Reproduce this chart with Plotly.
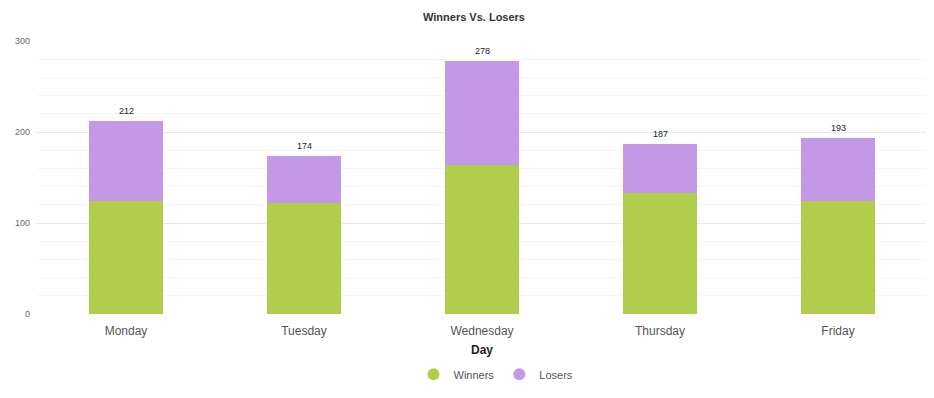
import plotly.graph_objects as go

days = ["Monday", "Tuesday", "Wednesday", "Thursday", "Friday"]
winners = [124, 122, 164, 133, 124]
losers = [88, 52, 114, 54, 69]
totals = [w + l for w, l in zip(winners, losers)]

GREEN = "#b0ce4b"
PURPLE = "#c398e6"

fig = go.Figure()
fig.add_trace(go.Bar(x=days, y=winners, name="Winners", marker=dict(color=GREEN, line_width=0),
                     showlegend=False, hoverinfo="x+y"))
fig.add_trace(go.Bar(x=days, y=losers, name="Losers", marker=dict(color=PURPLE, line_width=0),
                     showlegend=False, hoverinfo="x+y"))
fig.add_trace(go.Scatter(x=[None], y=[None], mode="markers", name="Winners",
                         marker=dict(color=GREEN, size=12, symbol="circle")))
fig.add_trace(go.Scatter(x=[None], y=[None], mode="markers", name="Losers",
                         marker=dict(color=PURPLE, size=12, symbol="circle")))

for d, t in zip(days, totals):
    fig.add_annotation(x=d, y=t, text=str(t), showarrow=False, yanchor="bottom", yshift=3,
                       font=dict(size=9, color="#222", family="Arial, Liberation Sans, sans-serif"))

fig.update_layout(
    width=934, height=398,
    barmode="stack", bargap=0.584,
    plot_bgcolor="white", paper_bgcolor="white",
    margin=dict(l=29, r=15, t=33, b=92, autoexpand=False),
    font=dict(family="Arial, Liberation Sans, sans-serif", color="#555"),
    title=dict(text="<b>Winners Vs. Losers</b>", x=(474 - 8) / 934, xanchor="center",
               y=1 - 9 / 398, yanchor="middle",
               font=dict(size=11, color="#333")),
    xaxis=dict(showgrid=False, showline=False, zeroline=False, ticks="outside", ticklen=6,
               tickcolor="rgba(0,0,0,0)",
               tickfont=dict(size=12, color="#555"),
               title=dict(text="<b>Day</b>", font=dict(size=12, color="#222"), standoff=8)),
    yaxis=dict(range=[0, 300], dtick=100, gridcolor="#e8e8e8", gridwidth=1, zeroline=False,
               showline=False, tickfont=dict(size=9, color="#666"), ticks="", ticklabelstandoff=6,
               minor=dict(dtick=20, showgrid=True, gridcolor="#f5f5f5", gridwidth=1)),
    legend=dict(orientation="h", x=(496 - 8 - 29) / 890, xanchor="center", y=-0.168, yanchor="top",
                traceorder="normal",
                font=dict(size=11, color="#555"), itemwidth=30),
)

fig.write_html("out.html")
